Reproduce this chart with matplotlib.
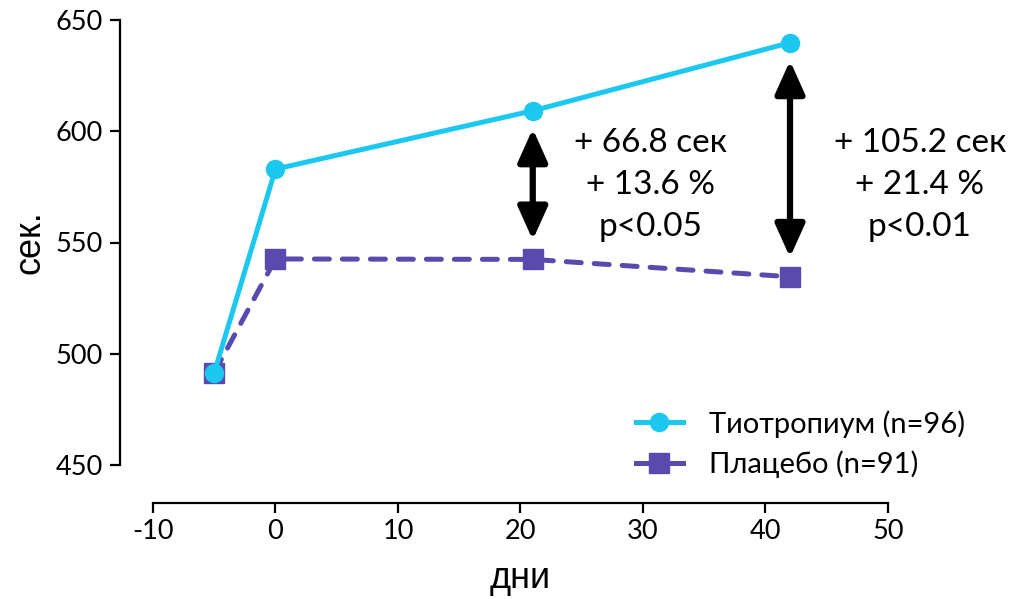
import matplotlib
matplotlib.use("Agg")
import matplotlib.pyplot as plt
from matplotlib.lines import Line2D

# data
days = [-5, 0, 21, 42]
tiotropium = [491.5, 583.0, 609.2, 639.8]
placebo = [491.5, 542.6, 542.4, 534.6]
arrow_days = [21, 42]
notes = ["+ 66.8 сек\n+ 13.6 %\np<0.05", "+ 105.2 сек\n+ 21.4 %\np<0.01"]
note_x = [30.6, 52.6]
note_y = 576
x_ticks = [-10, 0, 10, 20, 30, 40, 50]
y_ticks = [450, 500, 550, 600, 650]
labels = ["Тиотропиум (n=96)", "Плацебо (n=91)"]

CYAN = "#1cc8ef"
PURPLE = "#5b4aad"

plt.rcParams["font.family"] = ["Lato", "Noto Sans", "DejaVu Sans"]
plt.rcParams["axes.unicode_minus"] = False

fig = plt.figure(figsize=(10.12, 5.99), dpi=100)
ax = fig.add_axes([153 / 1012, 1 - 465 / 599, 735 / 1012, 445 / 599])

ax.plot(days, placebo, color=PURPLE, lw=3.6, ls=(0, (3, 2.6)), dash_capstyle="round",
        marker="s", ms=14.5, mec=PURPLE, zorder=2)
ax.plot(days, tiotropium, color=CYAN, lw=3.6, marker="o", ms=13, zorder=3)

# difference arrows between the two groups
for d in arrow_days:
    i = days.index(d)
    ax.annotate("", xy=(d, placebo[i]), xytext=(d, tiotropium[i]),
                arrowprops=dict(arrowstyle="<|-|>,head_length=1.0,head_width=0.45",
                                lw=4.5, color="black", shrinkA=13, shrinkB=14,
                                mutation_scale=20))

for x, t in zip(note_x, notes):
    ax.text(x, note_y, t, ha="center", va="center", fontsize=24,
            linespacing=1.5, clip_on=False)

ax.set_xlim(-10, 50)
ax.set_ylim(450, 650)
ax.set_xticks(x_ticks)
ax.set_yticks(y_ticks)
ax.spines[["top", "right"]].set_visible(False)
ax.spines["left"].set_position(("outward", 24))
ax.spines["bottom"].set_position(("outward", 27))
for s in ("left", "bottom"):
    ax.spines[s].set_linewidth(1.6)
ax.tick_params(width=1.6, length=7, labelsize=19.5, pad=5)

ax.set_ylabel("сек.", fontsize=26, family=["Liberation Sans"], labelpad=6)
ax.set_xlabel("дни", fontsize=26, family=["Liberation Sans"], labelpad=12)

handles = [
    Line2D([], [], color=CYAN, lw=3.6, marker="o", ms=13),
    Line2D([], [], color=PURPLE, lw=3.6, marker="s", ms=14.5),
]
ax.legend(handles, labels, loc="upper left",
          bbox_to_anchor=(636 / 1012, 1 - 410 / 599),
          bbox_transform=fig.transFigure, frameon=False, fontsize=21,
          handlelength=1.6, handletextpad=0.9, labelspacing=0.45,
          borderpad=0, borderaxespad=0)

fig.savefig("out.png", dpi=100)
